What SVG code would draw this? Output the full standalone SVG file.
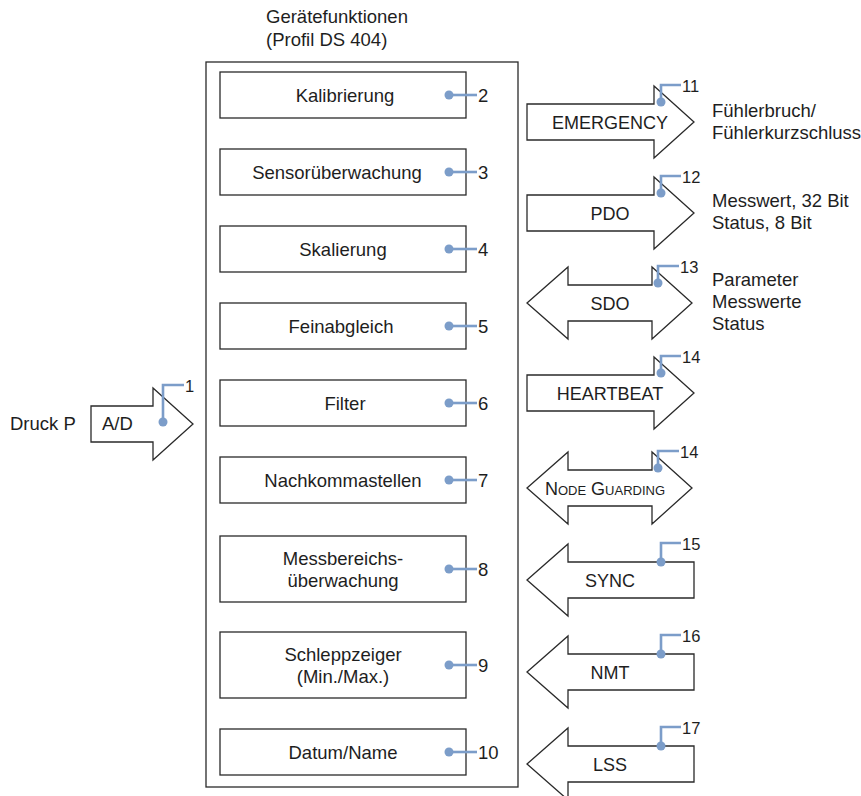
<svg xmlns="http://www.w3.org/2000/svg" width="861" height="796" viewBox="0 0 861 796">
<style>
text{font-family:"Liberation Sans",Arial,sans-serif;fill:#1e1e1e;font-size:18.5px}
.box{fill:#fff;stroke:#2a2a2a;stroke-width:1.3}
.arr{fill:#fff;stroke:#2a2a2a;stroke-width:1.3;stroke-linejoin:miter}
.c{text-anchor:middle}
.cl{fill:none;stroke:#7c9dc9;stroke-width:2.6}
.dot{fill:#7c9dc9}
text.sn{font-size:16.5px}
.al{font-size:18px}
tspan.sc{font-size:13px}
</style>
<rect width="861" height="796" fill="#fff"/>
<g id="title">
<text x="266" y="23">Gerätefunktionen</text>
<text x="266" y="46">(Profil DS 404)</text>
</g>
<g id="device"><rect class="box" x="206" y="62" width="312" height="725"/></g>

<g id="n2"><rect class="box" x="220" y="72" width="246" height="46"/><text class="c" x="345" y="101.5">Kalibrierung</text></g>
<g id="n3"><rect class="box" x="220" y="149" width="246" height="46"/><text class="c" x="337" y="178.5">Sensorüberwachung</text></g>
<g id="n4"><rect class="box" x="220" y="226" width="246" height="46"/><text class="c" x="343" y="255.5">Skalierung</text></g>
<g id="n5"><rect class="box" x="220" y="303" width="246" height="46"/><text class="c" x="341" y="332.5">Feinabgleich</text></g>
<g id="n6"><rect class="box" x="220" y="380" width="246" height="46"/><text class="c" x="345" y="409.5">Filter</text></g>
<g id="n7"><rect class="box" x="220" y="457" width="246" height="46"/><text class="c" x="343" y="486.5">Nachkommastellen</text></g>
<g id="n8"><rect class="box" x="220" y="536" width="246" height="66"/><text class="c" x="343" y="565">Messbereichs-</text><text class="c" x="343" y="587">überwachung</text></g>
<g id="n9"><rect class="box" x="220" y="632" width="246" height="66"/><text class="c" x="343" y="661">Schleppzeiger</text><text class="c" x="343" y="683">(Min./Max.)</text></g>
<g id="n10"><rect class="box" x="220" y="729" width="246" height="46"/><text class="c" x="343" y="758.5">Datum/Name</text></g>

<g id="ad">
<text x="10" y="430">Druck P</text>
<polygon class="arr" points="91,406 153,406 153,388 193,424 153,460 153,442 91,442"/>
<text x="102" y="430">A/D</text>
</g>

<g id="emergency"><polygon class="arr" points="527,104 654,104 654,86 694,122 654,158 654,140 527,140"/><text class="c al" x="610" y="128.5">EMERGENCY</text></g>
<g id="pdo"><polygon class="arr" points="527,195 654,195 654,177 694,213 654,249 654,231 527,231"/><text class="c al" x="610" y="219.5">PDO</text></g>
<g id="sdo"><polygon class="arr" points="527,303 568,267 568,285 652,285 652,267 692,303 652,339 652,321 568,321 568,339"/><text class="c al" x="610" y="309.5">SDO</text></g>
<g id="heartbeat"><polygon class="arr" points="527,375 654,375 654,357 694,393 654,429 654,411 527,411"/><text class="c al" x="610" y="399.5">HEARTBEAT</text></g>
<g id="nodeguarding"><polygon class="arr" points="527,488 568,452 568,470 652,470 652,452 692,488 652,524 652,506 568,506 568,524"/><text class="c al" x="605" y="494.5">N<tspan class="sc">ODE</tspan> G<tspan class="sc">UARDING</tspan></text></g>
<g id="sync"><polygon class="arr" points="527,580 568,544 568,562 694,562 694,598 568,598 568,616"/><text class="c al" x="610" y="586.5">SYNC</text></g>
<g id="nmt"><polygon class="arr" points="527,672 568,636 568,654 694,654 694,690 568,690 568,708"/><text class="c al" x="610" y="678.5">NMT</text></g>
<g id="lss"><polygon class="arr" points="527,764 568,728 568,746 694,746 694,782 568,782 568,800"/><text class="c al" x="610" y="770.5">LSS</text></g>

<g id="side-texts">
<text x="712" y="117">Fühlerbruch/</text>
<text x="712" y="139">Fühlerkurzschluss</text>
<text x="712" y="207">Messwert, 32 Bit</text>
<text x="712" y="229">Status, 8 Bit</text>
<text x="712" y="286">Parameter</text>
<text x="712" y="308">Messwerte</text>
<text x="712" y="330">Status</text>
</g>

<g id="callouts">
<circle class="dot" cx="163" cy="422" r="4.5"/><polyline class="cl" points="163,422 163,385 184,385"/><text class="sn" x="185" y="392">1</text>
<g id="c-boxes">
<circle class="dot" cx="449" cy="95" r="4.5"/><line class="cl" x1="449" y1="95" x2="477" y2="95"/><text x="478" y="101.5">2</text>
<circle class="dot" cx="449" cy="172" r="4.5"/><line class="cl" x1="449" y1="172" x2="477" y2="172"/><text x="478" y="178.5">3</text>
<circle class="dot" cx="449" cy="249" r="4.5"/><line class="cl" x1="449" y1="249" x2="477" y2="249"/><text x="478" y="255.5">4</text>
<circle class="dot" cx="449" cy="326" r="4.5"/><line class="cl" x1="449" y1="326" x2="477" y2="326"/><text x="478" y="332.5">5</text>
<circle class="dot" cx="449" cy="403" r="4.5"/><line class="cl" x1="449" y1="403" x2="477" y2="403"/><text x="478" y="409.5">6</text>
<circle class="dot" cx="449" cy="480" r="4.5"/><line class="cl" x1="449" y1="480" x2="477" y2="480"/><text x="478" y="486.5">7</text>
<circle class="dot" cx="449" cy="569" r="4.5"/><line class="cl" x1="449" y1="569" x2="477" y2="569"/><text x="478" y="575.5">8</text>
<circle class="dot" cx="449" cy="665" r="4.5"/><line class="cl" x1="449" y1="665" x2="477" y2="665"/><text x="478" y="671.5">9</text>
<circle class="dot" cx="449" cy="752" r="4.5"/><line class="cl" x1="449" y1="752" x2="477" y2="752"/><text x="478" y="758.5">10</text>
</g>
<g id="c-arrows">
<circle class="dot" cx="661" cy="102" r="4.5"/><polyline class="cl" points="661,102 661,85 681,85"/><text class="sn" x="682" y="92">11</text>
<circle class="dot" cx="661" cy="193" r="4.5"/><polyline class="cl" points="661,193 661,176 681,176"/><text class="sn" x="682" y="183">12</text>
<circle class="dot" cx="658" cy="283" r="4.5"/><polyline class="cl" points="658,283 658,266 679,266"/><text class="sn" x="680" y="273">13</text>
<circle class="dot" cx="661" cy="373" r="4.5"/><polyline class="cl" points="661,373 661,356 681,356"/><text class="sn" x="682" y="363">14</text>
<circle class="dot" cx="658" cy="468" r="4.5"/><polyline class="cl" points="658,468 658,451 679,451"/><text class="sn" x="680" y="458">14</text>
<circle class="dot" cx="661" cy="562" r="4.5"/><polyline class="cl" points="661,562 661,543 681,543"/><text class="sn" x="682" y="550">15</text>
<circle class="dot" cx="661" cy="654" r="4.5"/><polyline class="cl" points="661,654 661,635 681,635"/><text class="sn" x="682" y="642">16</text>
<circle class="dot" cx="661" cy="746" r="4.5"/><polyline class="cl" points="661,746 661,727 681,727"/><text class="sn" x="682" y="734">17</text>
</g>
</g>
</svg>
